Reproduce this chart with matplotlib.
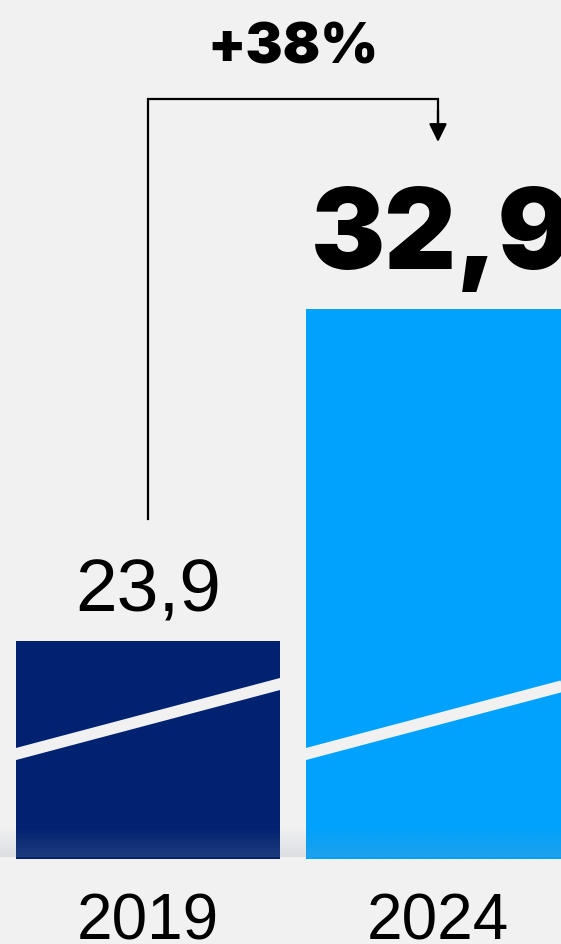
import numpy as np
import matplotlib
matplotlib.use("Agg")
import matplotlib.pyplot as plt
from matplotlib.colors import LinearSegmentedColormap

# --- Données ---
years = ["2019", "2024"]
values = [23.9, 32.9]
value_labels = ["23,9", "32,9"]
growth_label = "+38%"
colors = ["#002270", "#00a2fd"]

BG = "#f1f1f1"
BASE = 18.0            # début de l'axe y
PX_PER_UNIT = 36.89    # pixels par unité

W, H = 561, 945
fig = plt.figure(figsize=(W / 100, H / 100), dpi=100, facecolor=BG)
# axe : du haut de la figure jusqu'au pied des barres (pixel 860)
ax = fig.add_axes([0, 85 / H, 1, 860 / H], facecolor=BG)

x = np.arange(len(years))
width = 264 / 290
ax.set_xlim(-148 / 290, (W - 148) / 290)
ax.set_ylim(BASE, BASE + 860 / PX_PER_UNIT)

bars = ax.bar(x, [v - BASE for v in values], bottom=BASE, width=width,
              color=colors, zorder=2)

# --- Bande blanche diagonale dans chaque barre ---
for b in bars:
    x0, x1 = b.get_x(), b.get_x() + b.get_width()
    y0 = BASE + 105 / PX_PER_UNIT
    y1 = BASE + 175 / PX_PER_UNIT
    slope = (y1 - y0) / (x1 - x0)
    xs = np.array([x0 - 0.1, x1 + 0.1])
    ys = y0 + slope * (xs - x0)
    line, = ax.plot(xs, ys, color=BG, lw=8.4, solid_capstyle="butt", zorder=3)
    line.set_clip_path(b)

# --- Ombre en bas ---
shade = LinearSegmentedColormap.from_list(
    "shade", [(0.55, 0.60, 0.70, 0.0), (0.55, 0.60, 0.70, 0.22)])
grad = np.linspace(0, 1, 64).reshape(-1, 1)
ax.imshow(grad, cmap=shade, aspect="auto", origin="upper", zorder=4,
          extent=(ax.get_xlim()[0], ax.get_xlim()[1],
                  BASE + 2 / PX_PER_UNIT, BASE + 32 / PX_PER_UNIT))
ax.set_xlim(-148 / 290, (W - 148) / 290)
ax.set_ylim(BASE, BASE + 860 / PX_PER_UNIT)

# --- Valeurs ---
ax.annotate(value_labels[0], xy=(x[0], values[0]), xytext=(0, 22),
            textcoords="offset points", ha="center", va="baseline",
            fontsize=54, family="Liberation Sans", color="black")
ax.annotate(value_labels[1], xy=(x[1], values[1]), xytext=(3, 29.5),
            textcoords="offset points", ha="center", va="baseline",
            fontsize=80, family="Inter", fontweight="black", color="black")

# --- Crochet et flèche ---
y_start = values[0] + 122 / PX_PER_UNIT
y_top = BASE + 760 / PX_PER_UNIT
y_tip = BASE + 717 / PX_PER_UNIT
ax.plot([x[0], x[0], x[1], x[1]], [y_start, y_top, y_top, y_tip + 0.3],
        color="black", lw=1.6, solid_joinstyle="miter", zorder=5)
ax.annotate("", xy=(x[1], y_tip), xytext=(x[1], y_top - 0.3),
            arrowprops=dict(arrowstyle="-|>,head_length=0.55,head_width=0.27",
                            mutation_scale=20, color="black", lw=1.6,
                            shrinkA=0, shrinkB=0), zorder=5)
ax.text((x[0] + x[1]) / 2, BASE + 797 / PX_PER_UNIT, growth_label,
        ha="center", va="baseline", fontsize=40, family="Inter",
        fontweight="black", color="black")

# --- Axes ---
ax.set_xticks(x, years)
ax.tick_params(axis="x", length=0, pad=23.5, labelsize=46)
for lab in ax.get_xticklabels():
    lab.set_family("Liberation Sans")
ax.set_yticks([])
for s in ax.spines.values():
    s.set_visible(False)

fig.savefig("out.png", dpi=100, facecolor=BG)
